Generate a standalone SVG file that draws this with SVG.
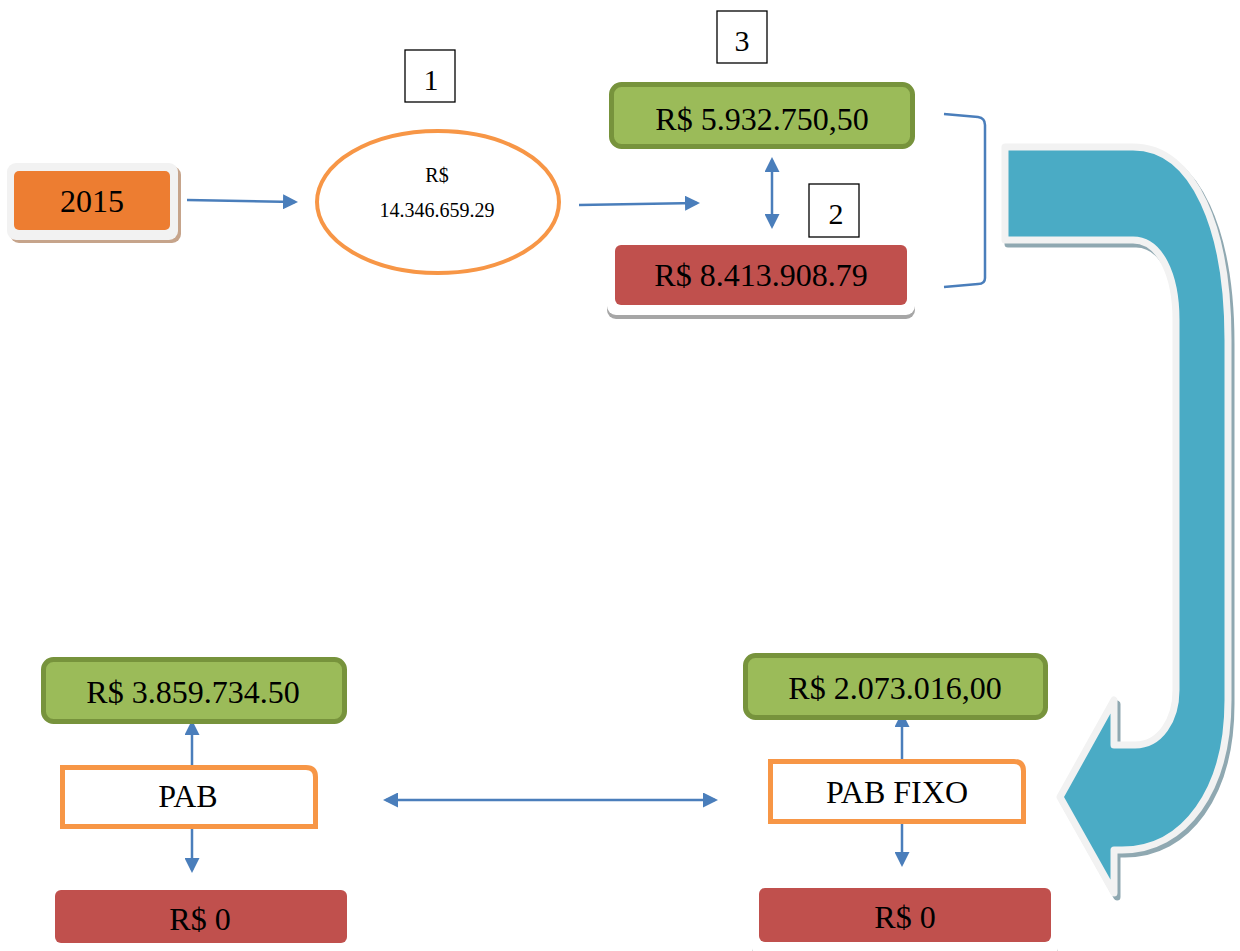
<svg xmlns="http://www.w3.org/2000/svg" width="1240" height="951" viewBox="0 0 1240 951">
  <defs>
    <marker id="ah" viewBox="0 0 10 10" refX="8" refY="5" markerWidth="15" markerHeight="15" markerUnits="userSpaceOnUse" orient="auto-start-reverse">
      <path d="M0,0 L10,5 L0,10 z" fill="#4A7EBB"/>
    </marker>
    <style>
      text { font-family: "Liberation Serif", "Times New Roman", serif; fill: #000; text-anchor: middle; }
      .big { font-size: 32px; }
      .num { font-size: 30px; }
      .small { font-size: 20px; }
      .conn { stroke: #4A7EBB; stroke-width: 2.5; fill: none; }
      .green { fill: #9BBB59; stroke: #77933C; stroke-width: 5; }
      .red { fill: #C0504D; }
      .frame { fill: #FFFFFF; }
      .fshadow { fill: #A6A6A6; }
      .tag { fill: #FFFFFF; stroke: #000; stroke-width: 1.3; }
      .pab { fill: #FFFFFF; stroke: #F79646; stroke-width: 5; }
    </style>
  </defs>

  <!-- big curved return arrow -->
  <g id="curved-arrow">
    <path transform="translate(3,4)" d="M 1005,147 L 1133,147 C 1195,147 1228,230 1228,340 L 1228,700 C 1228,790 1185,850 1122,850 L 1114,850 L 1114,893 L 1060,797 L 1114,700 L 1114,745 L 1135,745 C 1160,745 1176,720 1176,690 L 1176,320 C 1176,275 1160,240 1133,240 L 1005,240 Z" fill="#8FA8B1" stroke="#8FA8B1" stroke-width="7" stroke-linejoin="round"/>
    <path d="M 1005,147 L 1133,147 C 1195,147 1228,230 1228,340 L 1228,700 C 1228,790 1185,850 1122,850 L 1114,850 L 1114,893 L 1060,797 L 1114,700 L 1114,745 L 1135,745 C 1160,745 1176,720 1176,690 L 1176,320 C 1176,275 1160,240 1133,240 L 1005,240 Z" fill="#4AABC5" stroke="#F2F2F2" stroke-width="7" stroke-linejoin="round"/>
  </g>

  <!-- connectors -->
  <g id="connectors">
    <line class="conn" x1="187" y1="200" x2="295" y2="202" marker-end="url(#ah)"/>
    <line class="conn" x1="579" y1="205" x2="697" y2="203" marker-end="url(#ah)"/>
    <line class="conn" x1="772" y1="160" x2="772" y2="226" marker-start="url(#ah)" marker-end="url(#ah)"/>
    <path class="conn" d="M 944,114 L 978,117 Q 985,118 985,125 L 985,278 Q 985,284 978,284 L 944,287" stroke-width="1.8"/>
    <line class="conn" x1="192" y1="765" x2="192" y2="723" marker-end="url(#ah)"/>
    <line class="conn" x1="192" y1="828" x2="192" y2="870" marker-end="url(#ah)"/>
    <line class="conn" x1="902" y1="760" x2="902" y2="715" marker-end="url(#ah)"/>
    <line class="conn" x1="902" y1="824" x2="902" y2="864" marker-end="url(#ah)"/>
    <line class="conn" x1="386" y1="800" x2="715" y2="800" marker-start="url(#ah)" marker-end="url(#ah)"/>
  </g>

  <!-- year -->
  <g id="year-2015">
    <rect x="10" y="166" width="171" height="77" rx="9" fill="#C6A48B"/>
    <rect x="7" y="163" width="171" height="77" rx="9" fill="#F2F2F2"/>
    <rect x="14" y="171" width="156" height="59" rx="5" fill="#ED7D31"/>
    <text class="big" x="92" y="212">2015</text>
  </g>

  <!-- total -->
  <g id="total">
    <ellipse cx="438" cy="202" rx="121" ry="71" fill="#FFFFFF" stroke="#F79646" stroke-width="4"/>
    <text class="small" x="437" y="182">R$</text>
    <text class="small" x="437" y="217">14.346.659.29</text>
  </g>

  <g id="tag-1">
    <rect class="tag" x="405" y="50" width="50" height="52"/>
    <text class="num" x="431" y="90">1</text>
  </g>

  <g id="tag-2">
    <rect class="tag" x="809" y="184" width="50" height="53"/>
    <text class="num" x="836" y="224">2</text>
  </g>

  <g id="tag-3">
    <rect class="tag" x="717" y="11" width="50" height="52"/>
    <text class="num" x="742" y="51">3</text>
  </g>

  <g id="top-green">
    <rect class="green" x="611.5" y="84.5" width="301" height="62" rx="10"/>
    <text class="big" x="762" y="130">R$ 5.932.750,50</text>
  </g>

  <g id="top-red">
    <rect class="fshadow" x="607" y="243" width="308" height="76" rx="9"/>
    <rect class="frame" x="607" y="238" width="308" height="77" rx="9"/>
    <rect class="red" x="615" y="245" width="292" height="60" rx="6"/>
    <text class="big" x="761" y="286">R$ 8.413.908.79</text>
  </g>

  <!-- PAB column -->
  <g id="pab-green">
    <rect class="green" x="43.5" y="659.5" width="301" height="62" rx="10"/>
    <text class="big" x="193" y="703">R$ 3.859.734.50</text>
  </g>

  <g id="pab">
    <path class="pab" d="M 62.5,767.5 L 306,767.5 Q 315.5,767.5 315.5,777 L 315.5,826.5 L 62.5,826.5 Z"/>
    <text class="big" x="188" y="807">PAB</text>
  </g>

  <g id="pab-red">
    <rect class="fshadow" x="47" y="886" width="308" height="76" rx="9"/>
    <rect class="frame" x="47" y="882" width="308" height="77" rx="9"/>
    <rect class="red" x="55" y="890" width="292" height="53" rx="6"/>
    <text class="big" x="200" y="930">R$ 0</text>
  </g>

  <!-- PAB FIXO column -->
  <g id="pabfixo-green">
    <rect class="green" x="745.5" y="655.5" width="300" height="62" rx="10"/>
    <text class="big" x="895" y="699">R$ 2.073.016,00</text>
  </g>

  <g id="pab-fixo">
    <path class="pab" d="M 770.5,761.5 L 1014,761.5 Q 1023.5,761.5 1023.5,771 L 1023.5,821.5 L 770.5,821.5 Z"/>
    <text class="big" x="897" y="803">PAB FIXO</text>
  </g>

  <g id="pabfixo-red">
    <rect class="fshadow" x="752" y="884" width="306" height="76" rx="9"/>
    <rect class="frame" x="752" y="880" width="306" height="77" rx="9"/>
    <rect class="red" x="759" y="888" width="292" height="54" rx="6"/>
    <text class="big" x="905" y="928">R$ 0</text>
  </g>
</svg>
